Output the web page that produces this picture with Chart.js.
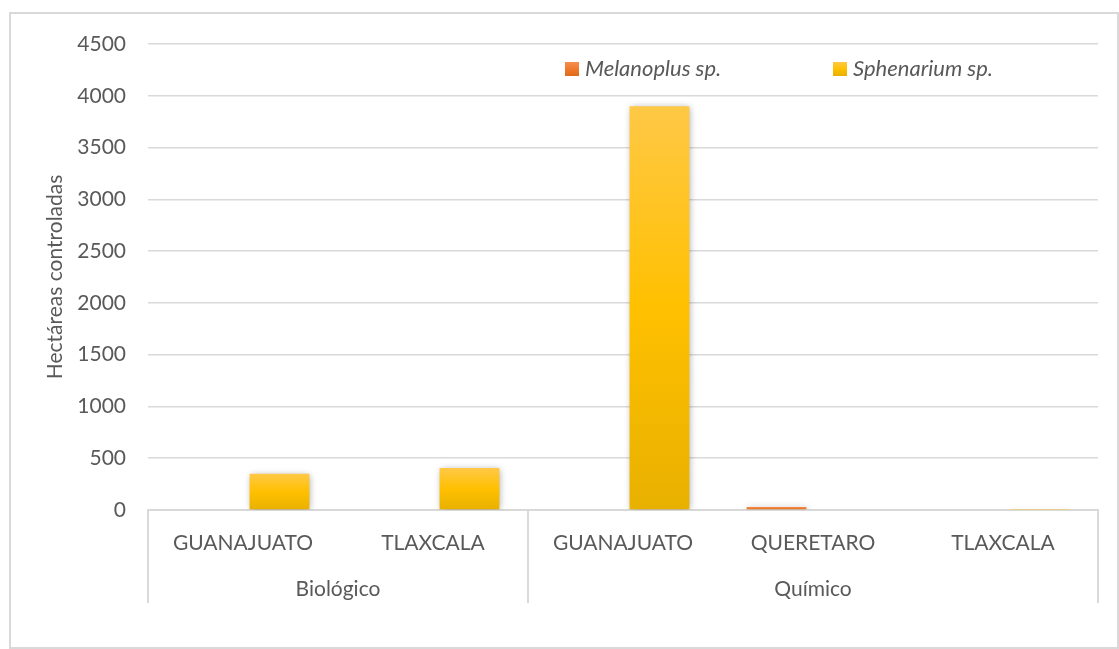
<!DOCTYPE html>
<html>
<head>
<meta charset="utf-8">
<script src="https://cdn.jsdelivr.net/npm/chart.js@4.4.1/dist/chart.umd.min.js"></script>
<style>
  body { margin: 0; background: #fff; }
  #wrap { position: relative; width: 1119px; height: 649px; }
  #frame { position: absolute; left: 9px; top: 12px; width: 1106px; height: 633px; border: 2px solid #d9d9d9; }
  canvas { position: absolute; left: 0; top: 0; }
</style>
</head>
<body>
<div id="wrap">
  <div id="frame"></div>
  <canvas id="chart" width="1119" height="649"></canvas>
</div>
<script>
// ------------------------------------------
// Data

const categories = ['GUANAJUATO', 'TLAXCALA', 'GUANAJUATO', 'QUERETARO', 'TLAXCALA'];
const groupNames = ['Biológico', 'Químico'];
const groupSizes = [2, 3];

const melanoplus = [0, 0, 0, 30, 0];
const sphenarium = [350, 405, 3900, 0, 3];

const yTicks = [0, 500, 1000, 1500, 2000, 2500, 3000, 3500, 4000, 4500];

const fontFamily = 'Lato, "Open Sans", sans-serif';
const fontSize = 21;
const textColor = '#595959';
const lineColor = '#d9d9d9';

// ------------------------------------------
// Gradient helpers (one gradient per bar, like the office chart)

function barGradient(c, stops, flat) {
    const chart = c.chart;
    const y = chart.scales && chart.scales.y;
    if (!y || c.raw === undefined || !isFinite(y.getPixelForValue(0))) return flat;
    const top = y.getPixelForValue(c.raw);
    let bottom = y.getPixelForValue(0);
    if (bottom - top < 1) bottom = top + 1;
    const g = chart.ctx.createLinearGradient(0, top, 0, bottom);
    stops.forEach(s => g.addColorStop(s[0], s[1]));
    return g;
}

const orangeStops = [[0, '#F68E50'], [0.5, '#EE7A2E'], [1, '#E06A18']];
const yellowStops = [[0, '#FFC846'], [0.5, '#FFC000'], [1, '#E8B000']];

// ------------------------------------------
// Plugins

// soft drop shadow behind the bars
const barShadow = {
    id: 'barShadow',
    beforeDatasetsDraw(chart) {
        const ctx = chart.ctx;
        ctx.save();
        ctx.shadowColor = 'rgba(0,0,0,0.35)';
        ctx.shadowBlur = 7;
        ctx.shadowOffsetX = 1;
        ctx.shadowOffsetY = 1;
    },
    afterDatasetsDraw(chart) {
        chart.ctx.restore();
    }
};

// second row of category labels (groups) and the separators
const groupAxis = {
    id: 'groupAxis',
    afterDraw(chart) {
        const ctx = chart.ctx;
        const x = chart.scales.x;
        const area = chart.chartArea;
        const step = x.width / categories.length;
        const bottom = 603;

        ctx.save();
        ctx.strokeStyle = lineColor;
        ctx.lineWidth = 2;
        ctx.fillStyle = textColor;
        ctx.font = fontSize + 'px ' + fontFamily;
        ctx.textAlign = 'center';
        ctx.textBaseline = 'middle';

        let start = 0;
        for (let i = 0; i < groupNames.length; i++) {
            const left = x.getPixelForValue(start) - step / 2;
            const right = x.getPixelForValue(start + groupSizes[i] - 1) + step / 2;
            ctx.beginPath();
            ctx.moveTo(left, area.bottom);
            ctx.lineTo(left, bottom);
            ctx.moveTo(right, area.bottom);
            ctx.lineTo(right, bottom);
            ctx.stroke();
            ctx.fillText(groupNames[i], (left + right) / 2, 589);
            start += groupSizes[i];
        }
        ctx.restore();
    }
};

// legend floating inside the plot, top right
const floatLegend = {
    id: 'floatLegend',
    afterDraw(chart) {
        const ctx = chart.ctx;
        const spots = [565, 833];
        ctx.save();
        ctx.font = 'italic 22px ' + fontFamily;
        ctx.textBaseline = 'middle';
        ctx.textAlign = 'left';
        chart.data.datasets.forEach((ds, i) => {
            const sx = spots[i];
            const g = ctx.createLinearGradient(0, 62, 0, 76);
            ds.legendStops.forEach(s => g.addColorStop(s[0], s[1]));
            ctx.fillStyle = g;
            ctx.fillRect(sx, 62, 14, 14);
            ctx.fillStyle = textColor;
            ctx.fillText(ds.label, sx + 20, 69);
        });
        ctx.restore();
    }
};

// ------------------------------------------
// Chart

const ctx = document.getElementById('chart').getContext('2d');

const chart = new Chart(ctx, {
    type: 'bar',
    data: {
        labels: categories,
        datasets: [
            {
                label: 'Melanoplus sp.',
                data: melanoplus,
                legendStops: orangeStops,
                backgroundColor: (c) => barGradient(c, orangeStops, '#EE7A2E'),
                borderWidth: 0
            },
            {
                label: 'Sphenarium sp.',
                data: sphenarium,
                legendStops: yellowStops,
                backgroundColor: (c) => barGradient(c, yellowStops, '#FFC000'),
                borderWidth: 0
            }
        ]
    },
    options: {
        responsive: false,
        animation: false,
        devicePixelRatio: 1,
        categoryPercentage: 0.768,
        barPercentage: 0.82,
        layout: {
            padding: { top: 44, right: 21, left: 0, bottom: 0 }
        },
        plugins: {
            legend: { display: false },
            tooltip: { enabled: false }
        },
        scales: {
            x: {
                grid: { display: false, drawTicks: false },
                border: { display: true, color: lineColor, width: 2 },
                ticks: {
                    color: textColor,
                    font: { family: fontFamily, size: fontSize },
                    padding: 21,
                    maxRotation: 0,
                    autoSkip: false
                },
                afterFit(scale) { scale.height = 139; }
            },
            y: {
                min: 0,
                max: 4500,
                afterBuildTicks(scale) {
                    scale.ticks = yTicks.map(v => ({ value: v }));
                },
                grid: { color: lineColor, lineWidth: 1.5, drawTicks: false },
                border: { display: false },
                ticks: {
                    color: textColor,
                    font: { family: fontFamily, size: fontSize },
                    padding: 22,
                    callback: (v) => String(v)
                },
                title: {
                    display: true,
                    text: 'Hectáreas controladas',
                    color: textColor,
                    font: { family: fontFamily, size: fontSize },
                    padding: { top: 43, bottom: 0 }
                },
                afterFit(scale) { scale.width = 148; }
            }
        }
    },
    plugins: [barShadow, groupAxis, floatLegend]
});
</script>
</body>
</html>
